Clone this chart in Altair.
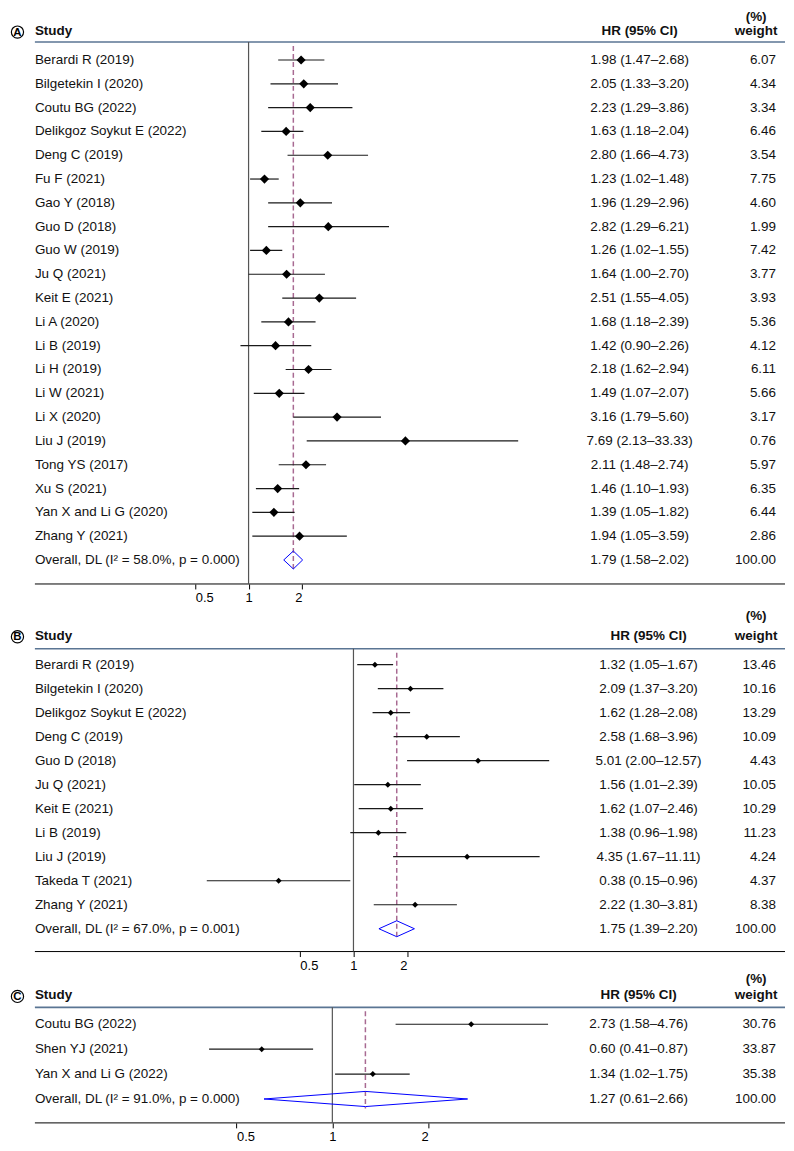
import altair as alt
import pandas as pd

FONT = "Liberation Sans"

# ---------------- Panel A ----------------
a_study = ["Berardi R (2019)", "Bilgetekin I (2020)", "Coutu BG (2022)", "Delikgoz Soykut E (2022)",
           "Deng C (2019)", "Fu F (2021)", "Gao Y (2018)", "Guo D (2018)", "Guo W (2019)", "Ju Q (2021)",
           "Keit E (2021)", "Li A (2020)", "Li B (2019)", "Li H (2019)", "Li W (2021)", "Li X (2020)",
           "Liu J (2019)", "Tong YS (2017)", "Xu S (2021)", "Yan X and Li G (2020)", "Zhang Y (2021)"]
a_hr = [1.98, 2.05, 2.23, 1.63, 2.80, 1.23, 1.96, 2.82, 1.26, 1.64, 2.51, 1.68, 1.42, 2.18, 1.49, 3.16,
        7.69, 2.11, 1.46, 1.39, 1.94]
a_lo = [1.47, 1.33, 1.29, 1.18, 1.66, 1.02, 1.29, 1.29, 1.02, 1.00, 1.55, 1.18, 0.90, 1.62, 1.07, 1.79,
        2.13, 1.48, 1.10, 1.05, 1.05]
a_hi = [2.68, 3.20, 3.86, 2.04, 4.73, 1.48, 2.96, 6.21, 1.55, 2.70, 4.05, 2.39, 2.26, 2.94, 2.07, 5.60,
        33.33, 2.74, 1.93, 1.82, 3.59]
a_wt = [6.07, 4.34, 3.34, 6.46, 3.54, 7.75, 4.60, 1.99, 7.42, 3.77, 3.93, 5.36, 4.12, 6.11, 5.66, 3.17,
        0.76, 5.97, 6.35, 6.44, 2.86]
a_overall = [1.79, 1.58, 2.02]
a_label = "Overall, DL (I² = 58.0%, p = 0.000)"

# ---------------- Panel B ----------------
b_study = ["Berardi R (2019)", "Bilgetekin I (2020)", "Delikgoz Soykut E (2022)", "Deng C (2019)",
           "Guo D (2018)", "Ju Q (2021)", "Keit E (2021)", "Li B (2019)", "Liu J (2019)",
           "Takeda T (2021)", "Zhang Y (2021)"]
b_hr = [1.32, 2.09, 1.62, 2.58, 5.01, 1.56, 1.62, 1.38, 4.35, 0.38, 2.22]
b_lo = [1.05, 1.37, 1.28, 1.68, 2.00, 1.01, 1.07, 0.96, 1.67, 0.15, 1.30]
b_hi = [1.67, 3.20, 2.08, 3.96, 12.57, 2.39, 2.46, 1.98, 11.11, 0.96, 3.81]
b_wt = [13.46, 10.16, 13.29, 10.09, 4.43, 10.05, 10.29, 11.23, 4.24, 4.37, 8.38]
b_overall = [1.75, 1.39, 2.20]
b_label = "Overall, DL (I² = 67.0%, p = 0.001)"

# ---------------- Panel C ----------------
c_study = ["Coutu BG (2022)", "Shen YJ (2021)", "Yan X and Li G (2022)"]
c_hr = [2.73, 0.60, 1.34]
c_lo = [1.58, 0.41, 1.02]
c_hi = [4.76, 0.87, 1.75]
c_wt = [30.76, 33.87, 35.38]
c_overall = [1.27, 0.61, 2.66]
c_label = "Overall, DL (I² = 91.0%, p = 0.000)"

tick_values = [0.5, 1, 2]

W = 778
LEFT = 25
TXT = "#111111"
FS = 13.5


def fmt_ci(h, l, u):
    return f"{h:.2f} ({l:.2f}–{u:.2f})"


def panel(letter, study, hr, lo, hi, wt, overall, ov_label, g):
    n = len(study) + 1
    rows = list(range(n))
    df = pd.DataFrame({
        "row": rows,
        "label": study + [ov_label],
        "hrtext": [fmt_ci(*t) for t in zip(hr, lo, hi)] + [fmt_ci(*overall)],
        "wtext": [f"{w:.2f}" for w in wt] + ["100.00"],
    })
    est = pd.DataFrame({"row": rows[:-1], "hr": hr, "lo": lo, "hi": hi})
    oh, ol, ou = overall
    r = n - 1
    hh = g["dh"] / g["step"]
    dia = pd.DataFrame({"x": [ol, oh, ou, oh, ol], "row": [r, r - hh, r, r + hh, r], "ord": [0, 1, 2, 3, 4]})
    ref = pd.DataFrame({"x": [oh]})
    one = pd.DataFrame({"x": [1.0]})
    dummy = pd.DataFrame({"k": [0]})

    xs = alt.Scale(type="log", domain=[0.5, 2], range=g["xr"], nice=False)
    last_y = g["row0"] + (n - 1) * g["step"]
    ys = alt.Scale(domain=[0, n - 1], range=[g["row0"], last_y], nice=False, zero=False)
    xaxis = alt.Axis(values=tick_values, format="~g", domain=False, grid=False, ticks=True, tickSize=5,
                     tickColor="black", tickWidth=1, labelFontSize=13, labelPadding=3, labelColor="black",
                     labelFont=FONT, title=None)

    def X(f):
        return alt.X(f, type="quantitative", scale=xs, axis=xaxis)

    def Y(f):
        return alt.Y(f, type="quantitative", scale=ys, axis=None)

    layers = []
    # header underline
    layers.append(alt.Chart(dummy).mark_rule(color="#5a7593", strokeWidth=1.6).encode(
        x=alt.value(LEFT), x2=alt.value(W), y=alt.value(g["line"])))
    # axis line
    layers.append(alt.Chart(dummy).mark_rule(color="black", strokeWidth=1).encode(
        x=alt.value(LEFT), x2=alt.value(W), y=alt.value(g["h"])))
    # null line at 1
    layers.append(alt.Chart(one).mark_rule(color="#555555", strokeWidth=1.2).encode(
        x=X("x"), y=alt.value(g["line"]), y2=alt.value(g["h"])))
    # dashed overall line
    layers.append(alt.Chart(ref).mark_rule(color="#a86a92", strokeWidth=1.5, strokeDash=[5, 3]).encode(
        x=X("x"), y=alt.value(g["line"] + 4), y2=alt.value(last_y + g["dh"] + 2)))
    # CI lines
    layers.append(alt.Chart(est).mark_rule(color="#1a1a1a", strokeWidth=1.2).encode(
        x=X("lo"), x2="hi", y=Y("row")))
    # point estimates
    layers.append(alt.Chart(est).mark_point(shape="diamond", filled=True, color="black", opacity=1,
                                            size=g["msize"]).encode(x=X("hr"), y=Y("row")))
    # overall diamond
    layers.append(alt.Chart(dia).mark_line(color="#0000ff", strokeWidth=1).encode(
        x=X("x"), y=Y("row"), order="ord:Q"))
    # text columns
    layers.append(alt.Chart(df).mark_text(align="left", baseline="middle", fontSize=FS, font=FONT,
                                          color=TXT).encode(x=alt.value(LEFT), y=Y("row"), text="label:N"))
    layers.append(alt.Chart(df).mark_text(align="center", baseline="middle", fontSize=FS, font=FONT,
                                          color=TXT).encode(x=alt.value(g["hrx"]), y=Y("row"), text="hrtext:N"))
    layers.append(alt.Chart(df).mark_text(align="right", baseline="middle", fontSize=FS, font=FONT,
                                          color=TXT).encode(x=alt.value(769), y=Y("row"), text="wtext:N"))
    # headers
    hdr = dict(baseline="middle", fontSize=FS, font=FONT, fontWeight="bold", color=TXT)
    layers.append(alt.Chart(dummy).mark_text(align="left", text="Study", **hdr).encode(
        x=alt.value(LEFT), y=alt.value(g["head"])))
    layers.append(alt.Chart(dummy).mark_text(align="center", text="HR (95% CI)", **hdr).encode(
        x=alt.value(g["hrx"]), y=alt.value(g["head"])))
    layers.append(alt.Chart(dummy).mark_text(align="center", text="weight", **hdr).encode(
        x=alt.value(749), y=alt.value(g["head"])))
    layers.append(alt.Chart(dummy).mark_text(align="center", text="(%)", **hdr).encode(
        x=alt.value(749), y=alt.value(g["pct"])))
    # circled panel letter
    layers.append(alt.Chart(dummy).mark_point(shape="circle", filled=False, color="black", strokeWidth=1.2,
                                              size=150, opacity=1).encode(
        x=alt.value(7.5), y=alt.value(g["head"] + 1)))
    layers.append(alt.Chart(dummy).mark_text(align="center", baseline="middle", fontSize=11.5, font=FONT,
                                             fontWeight="bold", color="black", text=letter).encode(
        x=alt.value(7.5), y=alt.value(g["head"] + 1.5)))

    return alt.layer(*layers).properties(width=W, height=g["h"])


gA = dict(h=575, pct=6, head=20, line=31, row0=49, step=23.9, dh=9, xr=[186, 293], hrx=632, msize=85)
gB = dict(h=348, pct=11, head=31, line=44, row0=60, step=24.1, dh=8, xr=[291, 398.6], hrx=641, msize=36)
gC = dict(h=151, pct=7, head=23, line=35, row0=52, step=25, dh=7.6, xr=[227.4, 419.8], hrx=631, msize=36)

pA = panel("A", a_study, a_hr, a_lo, a_hi, a_wt, a_overall, a_label, gA)
pB = panel("B", b_study, b_hr, b_lo, b_hi, b_wt, b_overall, b_label, gB)
pC = panel("C", c_study, c_hr, c_lo, c_hi, c_wt, c_overall, c_label, gC)

chart = alt.vconcat(pA, pB, pC, spacing=0).properties(padding=0).configure(
    font=FONT).configure_view(strokeWidth=0)

chart.save("out.html", embed_options={"renderer": "svg", "actions": False})
